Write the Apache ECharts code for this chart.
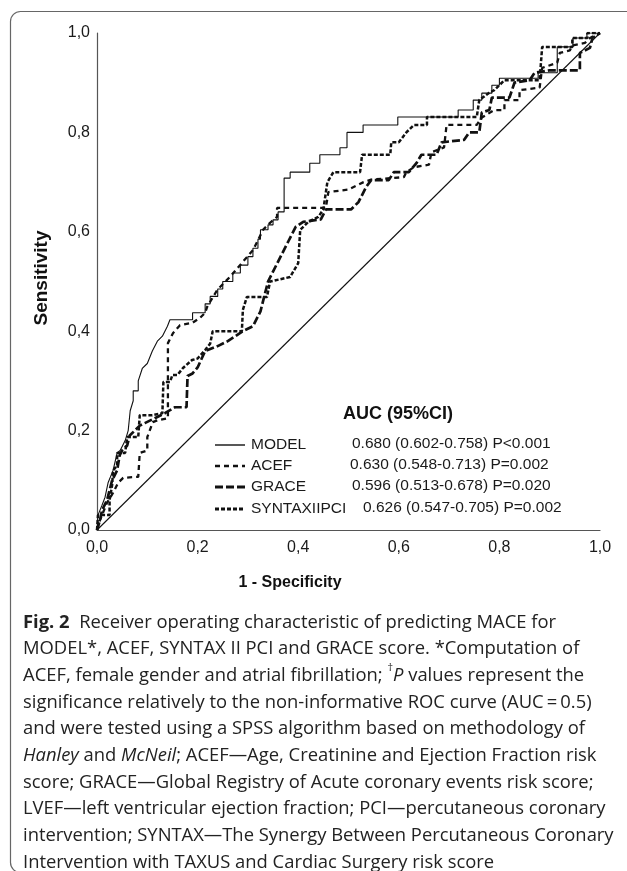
<!DOCTYPE html>
<html>
<head>
<meta charset="utf-8">
<title>ROC MACE</title>
<script src="https://cdn.jsdelivr.net/npm/echarts@6/dist/echarts.min.js"></script>
<style>
  html, body { margin: 0; padding: 0; background: #fff; }
  #main { width: 627px; height: 871px; }
</style>
</head>
<body>
<div id="main"></div>
<script>
// ROC points, [1 - specificity, sensitivity]
var modelRoc = [[0,0],[0.002,0.03],[0.01,0.05],[0.016,0.066],[0.022,0.095],[0.032,0.12],[0.04,0.155],[0.046,0.16],[0.056,0.18],[0.062,0.2],[0.066,0.24],[0.072,0.26],[0.072,0.28],[0.082,0.28],[0.082,0.30],[0.09,0.325],[0.1,0.335],[0.11,0.36],[0.12,0.38],[0.13,0.39],[0.14,0.41],[0.145,0.423],[0.19,0.423],[0.19,0.437],[0.215,0.437],[0.215,0.455],[0.225,0.455],[0.225,0.47],[0.24,0.47],[0.24,0.485],[0.25,0.485],[0.25,0.5],[0.27,0.5],[0.27,0.517],[0.285,0.517],[0.285,0.533],[0.3,0.533],[0.3,0.55],[0.31,0.55],[0.31,0.567],[0.32,0.567],[0.32,0.585],[0.325,0.585],[0.325,0.604],[0.34,0.604],[0.34,0.614],[0.35,0.614],[0.35,0.624],[0.36,0.624],[0.36,0.64],[0.372,0.64],[0.372,0.708],[0.384,0.708],[0.384,0.72],[0.423,0.72],[0.423,0.738],[0.443,0.738],[0.443,0.755],[0.483,0.755],[0.483,0.769],[0.497,0.769],[0.497,0.80],[0.529,0.80],[0.529,0.815],[0.598,0.815],[0.598,0.831],[0.718,0.831],[0.718,0.845],[0.748,0.845],[0.748,0.865],[0.765,0.865],[0.765,0.879],[0.785,0.879],[0.785,0.895],[0.80,0.895],[0.80,0.909],[0.877,0.909],[0.877,0.92],[0.915,0.92],[0.915,0.972],[0.946,0.972],[0.946,0.99],[0.974,0.99],[0.974,1],[1,1]];
var acefRoc = [[0,0],[0.006,0.02],[0.02,0.055],[0.032,0.075],[0.042,0.095],[0.052,0.105],[0.082,0.107],[0.085,0.155],[0.1,0.16],[0.1,0.187],[0.111,0.217],[0.121,0.221],[0.141,0.225],[0.141,0.376],[0.151,0.396],[0.165,0.412],[0.19,0.417],[0.205,0.427],[0.215,0.437],[0.219,0.449],[0.239,0.483],[0.264,0.509],[0.298,0.549],[0.31,0.563],[0.32,0.583],[0.33,0.604],[0.344,0.618],[0.358,0.63],[0.358,0.648],[0.455,0.648],[0.46,0.68],[0.5,0.685],[0.53,0.70],[0.545,0.705],[0.61,0.71],[0.615,0.72],[0.63,0.73],[0.66,0.735],[0.665,0.76],[0.69,0.77],[0.695,0.815],[0.755,0.815],[0.765,0.83],[0.79,0.845],[0.81,0.845],[0.81,0.865],[0.84,0.865],[0.84,0.885],[0.88,0.89],[0.885,0.93],[0.915,0.94],[0.92,0.96],[0.94,0.965],[0.945,0.975],[0.97,0.98],[0.98,0.99],[1,1]];
var graceRoc = [[0,0],[0.006,0.02],[0.01,0.04],[0.02,0.06],[0.025,0.08],[0.03,0.1],[0.04,0.12],[0.045,0.15],[0.05,0.16],[0.06,0.17],[0.065,0.19],[0.075,0.2],[0.085,0.21],[0.095,0.215],[0.115,0.225],[0.135,0.235],[0.155,0.247],[0.178,0.247],[0.18,0.31],[0.19,0.315],[0.2,0.327],[0.215,0.36],[0.24,0.37],[0.26,0.38],[0.29,0.40],[0.31,0.41],[0.325,0.44],[0.34,0.50],[0.365,0.55],[0.38,0.58],[0.395,0.61],[0.41,0.62],[0.445,0.625],[0.455,0.645],[0.505,0.645],[0.52,0.66],[0.535,0.69],[0.545,0.704],[0.58,0.704],[0.59,0.72],[0.62,0.72],[0.635,0.738],[0.645,0.755],[0.675,0.755],[0.685,0.78],[0.73,0.785],[0.74,0.80],[0.76,0.80],[0.765,0.84],[0.78,0.845],[0.785,0.87],[0.82,0.87],[0.83,0.90],[0.86,0.905],[0.87,0.92],[0.9,0.925],[0.96,0.925],[0.96,0.96],[0.98,0.97],[0.985,0.99],[1,1]];
var syntaxRoc = [[0,0],[0.002,0.03],[0.025,0.03],[0.025,0.06],[0.03,0.09],[0.032,0.12],[0.04,0.13],[0.04,0.155],[0.056,0.155],[0.06,0.187],[0.082,0.187],[0.085,0.231],[0.11,0.231],[0.13,0.235],[0.132,0.298],[0.145,0.298],[0.15,0.312],[0.16,0.312],[0.171,0.326],[0.189,0.342],[0.2,0.345],[0.215,0.362],[0.225,0.375],[0.23,0.40],[0.288,0.40],[0.29,0.443],[0.298,0.469],[0.338,0.469],[0.344,0.5],[0.384,0.509],[0.4,0.537],[0.404,0.604],[0.42,0.62],[0.44,0.63],[0.45,0.645],[0.458,0.70],[0.47,0.72],[0.523,0.72],[0.527,0.755],[0.583,0.755],[0.585,0.78],[0.60,0.78],[0.615,0.80],[0.63,0.815],[0.656,0.815],[0.656,0.831],[0.755,0.831],[0.76,0.865],[0.78,0.88],[0.79,0.885],[0.81,0.905],[0.88,0.905],[0.885,0.972],[0.945,0.972],[0.945,0.99],[0.975,0.99],[0.975,1],[1,1]];
var chanceLine = [[0,0],[1,1]];

var seriesNames = ['MODEL', 'ACEF', 'GRACE', 'SYNTAXIIPCI'];
var aucValues = ['0.680 (0.602-0.758) P<0.001', '0.630 (0.548-0.713) P=0.002', '0.596 (0.513-0.678) P=0.020', '0.626 (0.547-0.705) P=0.002'];

var caption = '{b|Fig. 2}  Receiver operating characteristic of predicting MACE for\n' +
  'MODEL*, ACEF, SYNTAX II PCI and GRACE score. *Computation of\n' +
  'ACEF, female gender and atrial fibrillation; {s|†}{i|P} values represent the\n' +
  'significance relatively to the non-informative ROC curve (AUC\u2009=\u20090.5)\n' +
  'and were tested using a SPSS algorithm based on methodology of\n' +
  '{i|Hanley} and {i|McNeil}; ACEF—Age, Creatinine and Ejection Fraction risk\n' +
  'score; GRACE—Global Registry of Acute coronary events risk score;\n' +
  'LVEF—left ventricular ejection fraction; PCI—percutaneous coronary\n' +
  'intervention; SYNTAX—The Synergy Between Percutaneous Coronary\n' +
  'Intervention with TAXUS and Cardiac Surgery risk score';

var ink = '#111';
var sans = '"Liberation Sans", Arial, sans-serif';
var capFont = '"Open Sans", sans-serif';
var styles = {
  MODEL: { width: 1.1, dash: 'solid' },
  ACEF: { width: 2.3, dash: [5, 4] },
  GRACE: { width: 2.7, dash: [8, 3] },
  SYNTAXIIPCI: { width: 2.5, dash: [4, 2] }
};

function rocSeries(name, data, st) {
  return {
    name: name,
    type: 'line',
    data: data,
    symbol: 'none',
    silent: true,
    lineStyle: { color: ink, width: st.width, type: st.dash }
  };
}

function commaLabel(v) {
  return v.toFixed(1).replace('.', ',');
}

var chart = echarts.init(document.getElementById('main'));

// legend + AUC table, drawn by hand to keep the table columns
var tableItems = [];
var aucLeft = [352, 350, 352, 363];
var rowY = [445, 466, 487, 509];
for (var i = 0; i < seriesNames.length; i++) {
  var st = styles[seriesNames[i]];
  tableItems.push({
    type: 'line', silent: true,
    shape: { x1: 215, y1: rowY[i], x2: 245, y2: rowY[i] },
    style: { stroke: ink, lineWidth: st.width + 0.3, lineDash: st.dash === 'solid' ? null : st.dash }
  });
  tableItems.push({
    type: 'text', silent: true, x: 251, y: rowY[i],
    style: { text: seriesNames[i], fill: '#1a1a1a', font: '15.5px ' + sans, verticalAlign: 'middle' }
  });
  tableItems.push({
    type: 'text', silent: true, x: aucLeft[i], y: rowY[i] - 1,
    style: { text: aucValues[i], fill: '#1a1a1a', font: '15.5px ' + sans, verticalAlign: 'middle' }
  });
}

var option = {
  animation: false,
  backgroundColor: '#fff',
  grid: { left: 97, right: 27, top: 33, bottom: 341, containLabel: false },
  xAxis: {
    type: 'value', min: 0, max: 1, interval: 0.2,
    axisLine: { show: true, lineStyle: { color: '#555', width: 1.2 } },
    axisTick: { show: false },
    splitLine: { show: false },
    axisLabel: { margin: 10, color: '#1a1a1a', fontSize: 16, fontFamily: sans, formatter: commaLabel }
  },
  yAxis: {
    type: 'value', min: 0, max: 1, interval: 0.2,
    axisLine: { show: true, lineStyle: { color: '#555', width: 1.2 } },
    axisTick: { show: false },
    splitLine: { show: false },
    axisLabel: { margin: 7, color: '#1a1a1a', fontSize: 16, fontFamily: sans, formatter: commaLabel }
  },
  series: [
    rocSeries('chance', chanceLine, styles.MODEL),
    rocSeries('MODEL', modelRoc, styles.MODEL),
    rocSeries('ACEF', acefRoc, styles.ACEF),
    rocSeries('GRACE', graceRoc, styles.GRACE),
    rocSeries('SYNTAXIIPCI', syntaxRoc, styles.SYNTAXIIPCI)
  ],
  graphic: [
    {
      type: 'rect', silent: true,
      shape: { x: 10.5, y: 11.5, width: 700, height: 861, r: 10 },
      style: { fill: 'none', stroke: '#666', lineWidth: 1.2 }
    },
    {
      type: 'text', silent: true, x: 42, y: 278, rotation: Math.PI / 2,
      style: { text: 'Sensitivity', fill: '#111', font: 'bold 19px ' + sans, align: 'center', verticalAlign: 'middle' }
    },
    {
      type: 'text', silent: true, x: 290, y: 583,
      style: { text: '1 - Specificity', fill: '#111', font: 'bold 16px ' + sans, align: 'center', verticalAlign: 'middle' }
    },
    {
      type: 'text', silent: true, x: 343, y: 414,
      style: { text: 'AUC (95%CI)', fill: '#111', font: 'bold 18px ' + sans, verticalAlign: 'middle' }
    },
    {
      type: 'text', silent: true, left: 23, top: 609,
      style: {
        text: caption,
        fill: '#222',
        font: '18.4px ' + capFont,
        lineHeight: 26.7,
        rich: {
          b: { fontWeight: 'bold', fontSize: 18.4, fontFamily: capFont, lineHeight: 26.7 },
          i: { fontStyle: 'italic', fontSize: 18.4, fontFamily: capFont, lineHeight: 26.7 },
          s: { fontSize: 11, fontFamily: capFont, verticalAlign: 'top', lineHeight: 26.7 }
        }
      }
    }
  ].concat(tableItems)
};

chart.setOption(option);
</script>
</body>
</html>
